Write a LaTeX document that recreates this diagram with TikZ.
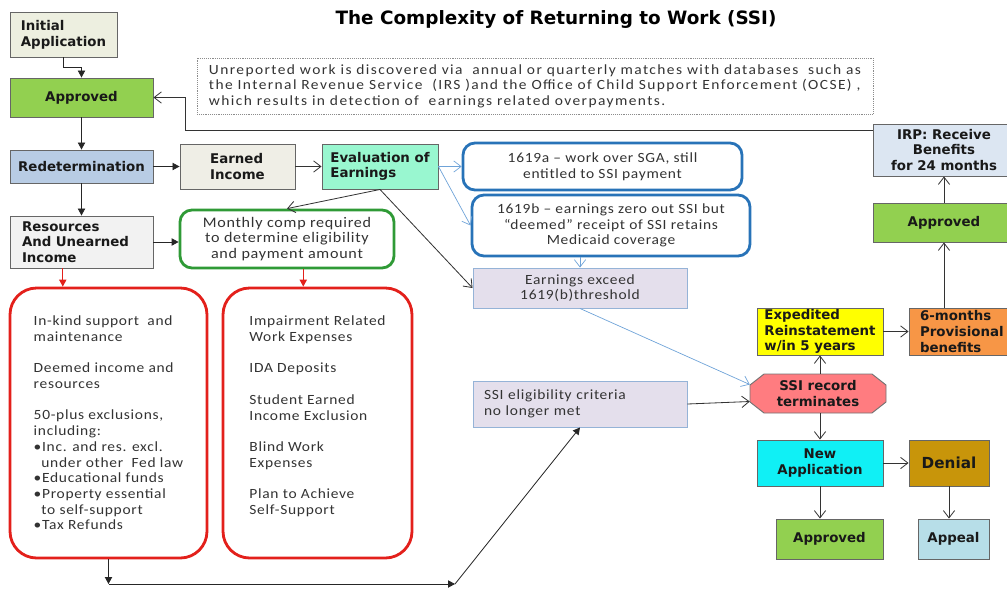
\documentclass[tikz,border=0pt]{standalone}
\usepackage{fontspec}
\setmainfont{Carlito}[FakeStretch=1.1,LetterSpace=5]
\newfontfamily\labelfont{DejaVu Sans}
\usetikzlibrary{arrows.meta, calc}

\definecolor{initfill}{HTML}{EDEFE0}
\definecolor{earnfill}{HTML}{EFEEE6}
\definecolor{resfill}{HTML}{F2F2F2}
\definecolor{apprfill}{HTML}{92D050}
\definecolor{redetfill}{HTML}{B8CCE4}
\definecolor{evalfill}{HTML}{99F7D0}
\definecolor{compgreen}{HTML}{2F9A36}
\definecolor{sgablue}{HTML}{2873B8}
\definecolor{lavfill}{HTML}{E4DFEC}
\definecolor{lavborder}{HTML}{95B3D7}
\definecolor{boxred}{HTML}{E3201B}
\definecolor{irpfill}{HTML}{DCE6F2}
\definecolor{expfill}{HTML}{FFFF00}
\definecolor{provfill}{HTML}{F79646}
\definecolor{octfill}{HTML}{FF7C80}
\definecolor{newfill}{HTML}{10F0F5}
\definecolor{denfill}{HTML}{C8950A}
\definecolor{appealfill}{HTML}{B7DEE8}
\definecolor{bluearrow}{HTML}{6FA3D8}

\tikzset{
  wh/.style 2 args={minimum width=#1*0.3mm, minimum height=#2*0.3mm},
  box/.style={draw=black!60, line width=0.8pt, inner sep=0pt},
  lbl/.style={font=\labelfont\bfseries\fontsize{11.4}{13.4}\selectfont, text=black!90, align=center, inner sep=0pt},
  body/.style={font=\fontsize{12}{13.4}\selectfont, text=black!80, align=center, inner sep=0pt},
  blueround/.style={draw=sgablue, line width=2.4pt, rounded corners=3.6mm, fill=white},
  redround/.style={draw=boxred, line width=2.4pt, rounded corners=8mm, fill=white},
  fillarr/.style={draw=black!85, line width=0.7pt, -{Triangle[length=2.1mm,width=2.2mm]}},
  openarr/.style={draw=black!80, line width=0.7pt, -{Straight Barb[length=2.2mm,width=3.4mm]}},
  bluearr/.style={draw=bluearrow, line width=0.6pt, -{Straight Barb[length=2.2mm,width=3.4mm]}},
  redarr/.style={draw=boxred, line width=0.8pt, -{Triangle[length=2.1mm,width=2.2mm]}}
}

\begin{document}
\begin{tikzpicture}[x=0.3mm, y=-0.3mm]
  \useasboundingbox (0,0) rectangle (1007,588);

  \node[font=\labelfont\bfseries\fontsize{15.7}{18}\selectfont] (title) at (556,19) {The Complexity of Returning to Work (SSI)};

  \node[draw=black!45, densely dotted, line width=0.6pt, wh={676}{56}, body, align=left,
        font=\fontsize{12}{13.2}\selectfont\addfontfeature{LetterSpace=10}] (note) at (535,86)
    {Unreported work is discovered via \ annual or quarterly matches with databases \ such as\\
     the Internal Revenue Service \ (IRS )and the Office of Child Support Enforcement (OCSE) ,\\
     which results in detection of \ earnings related overpayments.};

  \node[box, fill=initfill, wh={107}{45}, lbl, align=left] (init) at (63.5,34.5) {Initial\\Application};
  \node[box, fill=apprfill, wh={143}{39}, lbl] (appr1) at (81.5,97.5) {Approved};
  \node[box, fill=redetfill, wh={143}{33}, lbl] (redet) at (81.5,166.5) {Redetermination};
  \node[box, fill=earnfill, wh={115}{45}, lbl, align=left] (earned) at (237.5,166.5) {Earned\\Income};
  \node[box, fill=evalfill, wh={116}{45}, lbl, align=left] (evalu) at (380,166.5) {Evaluation of\\Earnings};
  \node[box, fill=resfill, wh={143}{52}, lbl, align=left, text width=119*0.3mm] (res) at (81.5,242) {Resources\\And Unearned\\Income};
  \node[draw=compgreen, line width=2.4pt, rounded corners=3.6mm, fill=white, wh={214}{58}, body,
        font=\fontsize{12.5}{13.4}\selectfont] (comp) at (287,239)
    {Monthly comp required\\to determine eligibility\\and payment amount};

  \node[blueround, wh={279}{47}, body] (sgaA) at (602.5,166.5) {1619a – work over SGA, still\\entitled to SSI payment};
  \node[blueround, wh={278}{61}, body] (sgaB) at (611,225.5) {1619b – earnings zero out SSI but\\“deemed” receipt of SSI retains\\Medicaid coverage};
  \node[box, draw=lavborder, fill=lavfill, wh={214}{40}, body] (exceed) at (580,288) {Earnings exceed\\1619(b)threshold};
  \node[box, draw=lavborder, fill=lavfill, wh={214}{46}, body, align=left, text width=192*0.3mm] (elig) at (580,404) {SSI eligibility criteria\\no longer met};

  \node[redround, wh={197}{270}, body, align=left] (kind) at (108.5,423)
    {In-kind support \ and\\maintenance\\[13.4pt]
     Deemed income and\\resources\\[13.4pt]
     50-plus exclusions,\\including:\\
     •Inc. and res. excl.\\\phantom{•}under other \ Fed law\\
     •Educational funds\\
     •Property essential\\\phantom{•}to self-support\\
     •Tax Refunds};
  \node[redround, wh={189}{270}, body, align=left] (excl) at (317.5,423)
    {Impairment Related\\Work Expenses\\[13.4pt]
     IDA Deposits\\[13.4pt]
     Student Earned\\Income Exclusion\\[13.4pt]
     Blind Work\\Expenses\\[13.4pt]
     Plan to Achieve\\Self-Support\\\mbox{}};

  \node[box, fill=irpfill, wh={142}{52}, lbl] (irp) at (944,150) {IRP: Receive\\Benefits\\for 24 months};
  \node[box, fill=apprfill, wh={142}{39}, lbl] (appr2) at (944,222.5) {Approved};
  \node[box, fill=expfill, wh={126}{47}, lbl, align=left] (exped) at (820,331.5) {Expedited\\Reinstatement\\w/in 5 years};
  \node[box, fill=provfill, wh={112}{47}, lbl, align=left, text width=90*0.3mm] (prov) at (965,331.5) {6-months\\Provisional\\benefits};

  \filldraw[fill=octfill, draw=black!55, line width=0.8pt]
    (764,374) -- (872,374) -- (886,385) -- (886,402) -- (872,413) -- (764,413) -- (750,402) -- (750,385) -- cycle;
  \node[lbl, wh={136}{39}] (oct) at (818,393.5) {SSI record\\terminates};

  \node[box, fill=newfill, wh={126}{46}, lbl] (newapp) at (820,463) {New\\Application};
  \node[box, fill=denfill, wh={80}{46}, lbl, font=\labelfont\bfseries\fontsize{13}{15}\selectfont] (denial) at (949,463) {Denial};
  \node[box, fill=apprfill, wh={107}{40}, lbl] (appr3) at (829.5,539) {Approved};
  \node[box, fill=appealfill, wh={71}{40}, lbl] (appeal) at (953.5,539) {Appeal};

  \draw[fillarr] (init.south) -- ++(0,10) -| (appr1.north);
  \draw[fillarr] (appr1.south) -- (redet.north);
  \draw[fillarr] (redet.east) -- (earned.west);
  \draw[fillarr] (redet.south) -- (res.north);
  \draw[fillarr] (res.east) -- (res.east -| comp.west);
  \draw[openarr] (earned.east) -- (evalu.west);
  \draw[openarr] (evalu.south) -- (comp.north);
  \draw[openarr] (evalu.south) -- (exceed.west);
  \draw[bluearr] (evalu.east) -- (sgaA.west);
  \draw[bluearr] (evalu.east) -- (sgaB.west);
  \draw[bluearr] (exceed.north |- sgaB.south) -- (exceed.north);
  \draw[bluearr] (exceed.south) -- ($(oct.west)+(0,-9)$);
  \draw[openarr] (elig.east) -- ($(oct.west)+(0,8)$);

  \coordinate (turn) at (185,130);
  \draw[openarr] ($(irp.west)+(0,-20)$) -- (turn) |- (appr1.east);

  \draw[redarr] ($(res.south west)!.37!(res.south east)$) coordinate (r1) -- (r1 |- kind.north);
  \draw[redarr] ($(comp.south west)!.575!(comp.south east)$) coordinate (r2) -- (r2 |- excl.north);

  \coordinate (low1) at (108.5,584);
  \coordinate (low2) at (455,584);
  \draw[fillarr] (kind.south) -- (low1);
  \draw[fillarr] (low1) -- (low2);
  \draw[fillarr] (low2) -- (elig.south);

  \draw[openarr] (oct.north -| exped.south) -- (exped.south);
  \draw[openarr] (oct.south -| newapp.north) -- (newapp.north);
  \draw[openarr] (exped.east) -- (prov.west);
  \draw[openarr] (prov.north -| appr2.south) -- (appr2.south);
  \draw[openarr] (appr2.north) -- (irp.south);
  \draw[openarr] (newapp.east) -- (denial.west);
  \draw[openarr] (newapp.south) -- (newapp.south |- appr3.north);
  \draw[openarr] (denial.south) -- (denial.south |- appeal.north);
\end{tikzpicture}
\end{document}
